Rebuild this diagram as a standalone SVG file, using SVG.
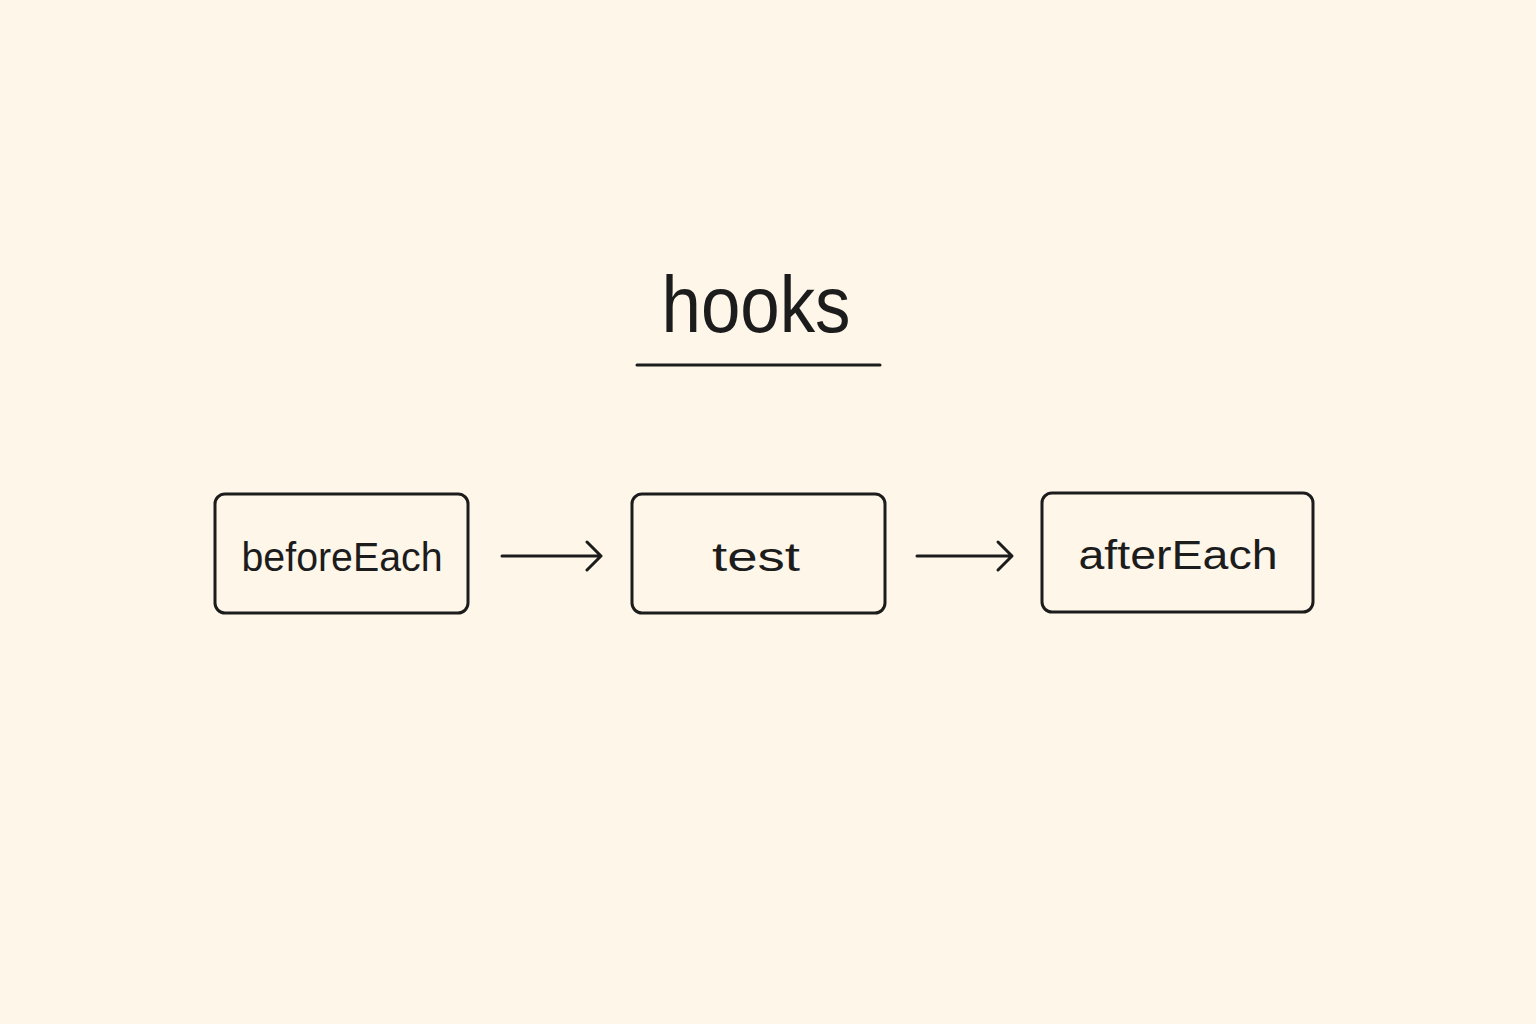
<svg xmlns="http://www.w3.org/2000/svg" width="1536" height="1024" viewBox="0 0 1536 1024">
<style>
.box{fill:none;stroke:#1c1c1c;stroke-width:3;}
.lbl{font-family:"Liberation Sans",Arial,sans-serif;font-size:40px;fill:#1c1c1c;text-anchor:middle;}
.con{stroke:#1c1c1c;stroke-width:3;fill:none;stroke-linecap:round;stroke-linejoin:round;}
</style>
<rect width="1536" height="1024" fill="#FDF6E9"/>
<g id="title">
<text x="756" y="332" font-family="Liberation Sans,Arial,sans-serif" font-size="80" fill="#1c1c1c" text-anchor="middle" textLength="189" lengthAdjust="spacingAndGlyphs">hooks</text>
<line x1="637" y1="365" x2="880" y2="365" class="con"/>
</g>
<g id="beforeEach">
<rect x="215" y="494" width="253" height="119" rx="10" class="box"/>
<text x="342" y="571" class="lbl" textLength="201" lengthAdjust="spacingAndGlyphs">beforeEach</text>
</g>
<g id="test">
<rect x="632" y="494" width="253" height="119" rx="10" class="box"/>
<text x="756" y="571" class="lbl" textLength="88" lengthAdjust="spacingAndGlyphs">test</text>
</g>
<g id="afterEach">
<rect x="1042" y="493" width="271" height="119" rx="10" class="box"/>
<text x="1178" y="569" class="lbl" textLength="199" lengthAdjust="spacingAndGlyphs">afterEach</text>
</g>
<g id="connectors">
<path d="M502 556 H601 M587 542 L601 556 L587 570" class="con"/>
<path d="M917 556 H1012 M998 542 L1012 556 L998 570" class="con"/>
</g>
</svg>
